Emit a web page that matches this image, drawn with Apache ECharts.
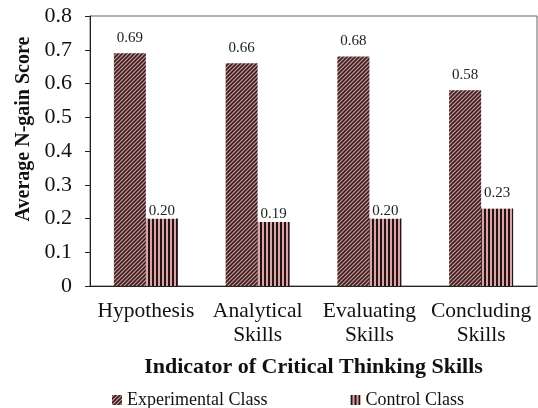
<!DOCTYPE html>
<html>
<head>
<meta charset="utf-8">
<script src="https://cdn.jsdelivr.net/npm/echarts@6/dist/echarts.min.js"></script>
<style>
  html, body { margin: 0; padding: 0; background: #fff; }
  #chart { width: 538px; height: 408px; }
</style>
</head>
<body>
<div id="chart"></div>
<script>
const categories = ['Hypothesis', 'Analytical\nSkills', 'Evaluating\nSkills', 'Concluding\nSkills']
const experimental = [0.69, 0.66, 0.68, 0.58]
const control = [0.20, 0.19, 0.20, 0.23]
const yTicks = { min: 0, max: 0.8, interval: 0.1 }

const serif = '"Liberation Serif", "Times New Roman", serif'

// hatch patterns drawn on small canvases
function diagPattern() {
  const n = 4
  const c = document.createElement('canvas')
  c.width = n
  c.height = n
  const ctx = c.getContext('2d')
  ctx.fillStyle = '#c99c9c'
  ctx.fillRect(0, 0, n, n)
  ctx.strokeStyle = '#3b1d1f'
  ctx.lineWidth = 1.6
  // three segments so the tile repeats seamlessly
  const segs = [[-1, 1, 1, -1], [0, n, n, 0], [n - 1, n + 1, n + 1, n - 1]]
  segs.forEach(s => {
    ctx.beginPath()
    ctx.moveTo(s[0], s[1])
    ctx.lineTo(s[2], s[3])
    ctx.stroke()
  })
  return c
}
function vertPattern() {
  const c = document.createElement('canvas')
  c.width = 4
  c.height = 4
  const ctx = c.getContext('2d')
  ctx.fillStyle = '#d6a6a6'
  ctx.fillRect(0, 0, 4, 4)
  ctx.fillStyle = '#2a1214'
  ctx.fillRect(0, 0, 2, 4)
  return c
}

// the last control label sits a little higher in the original
const controlData = control.map((v, i) => (i === 3
  ? { value: v, label: { padding: [1, 1, 8, 1] } }
  : v))

const chart = echarts.init(document.getElementById('chart'))
chart.setOption({
  backgroundColor: '#fff',
  animation: false,
  grid: {
    left: 90,
    right: 1,
    top: 16,
    bottom: 122,
    show: true,
    borderColor: '#666',
    borderWidth: 1
  },
  legend: {
    top: 391,
    left: 112,
    padding: 0,
    itemWidth: 10,
    itemHeight: 10,
    itemGap: 83,
    icon: 'rect',
    textStyle: { fontFamily: serif, fontSize: 18, color: '#111' },
    data: ['Experimental Class', 'Control Class']
  },
  xAxis: {
    type: 'category',
    data: categories,
    name: 'Indicator of Critical Thinking Skills',
    nameLocation: 'middle',
    nameGap: 70,
    nameTextStyle: { fontFamily: serif, fontSize: 22, fontWeight: 'bold', color: '#111' },
    axisLine: { lineStyle: { color: '#222', width: 1 } },
    axisTick: { show: false },
    axisLabel: {
      fontFamily: serif,
      fontSize: 21.5,
      color: '#111',
      lineHeight: 24,
      margin: 13,
      interval: 0
    }
  },
  yAxis: {
    type: 'value',
    min: yTicks.min,
    max: yTicks.max,
    interval: yTicks.interval,
    name: 'Average N-gain Score',
    nameLocation: 'middle',
    nameGap: 56,
    nameTextStyle: {
      fontFamily: serif,
      fontSize: 20,
      fontWeight: 'bold',
      color: '#111',
      padding: [0, 0, 0, 44]
    },
    axisLine: { show: true, lineStyle: { color: '#222', width: 1 } },
    axisTick: { show: true, inside: false, length: 5, lineStyle: { color: '#222' } },
    splitLine: { show: false },
    axisLabel: {
      fontFamily: serif,
      fontSize: 22,
      color: '#111',
      margin: 18,
      formatter: v => (v === 0 ? '0' : v.toFixed(1))
    }
  },
  series: [
    {
      name: 'Experimental Class',
      type: 'bar',
      data: experimental,
      barWidth: 32,
      barGap: '0%',
      itemStyle: { color: { image: diagPattern(), repeat: 'repeat' } },
      label: {
        show: true,
        position: 'top',
        distance: 8,
        fontFamily: serif,
        fontSize: 15,
        color: '#222',
        formatter: p => p.value.toFixed(2)
      }
    },
    {
      name: 'Control Class',
      type: 'bar',
      data: controlData,
      barWidth: 32,
      itemStyle: { color: { image: vertPattern(), repeat: 'repeat' } },
      label: {
        show: true,
        position: 'top',
        distance: 0,
        fontFamily: serif,
        fontSize: 15,
        color: '#222',
        backgroundColor: '#fff',
        padding: [1, 1, 0, 1],
        formatter: p => p.value.toFixed(2)
      }
    }
  ]
})
</script>
</body>
</html>
